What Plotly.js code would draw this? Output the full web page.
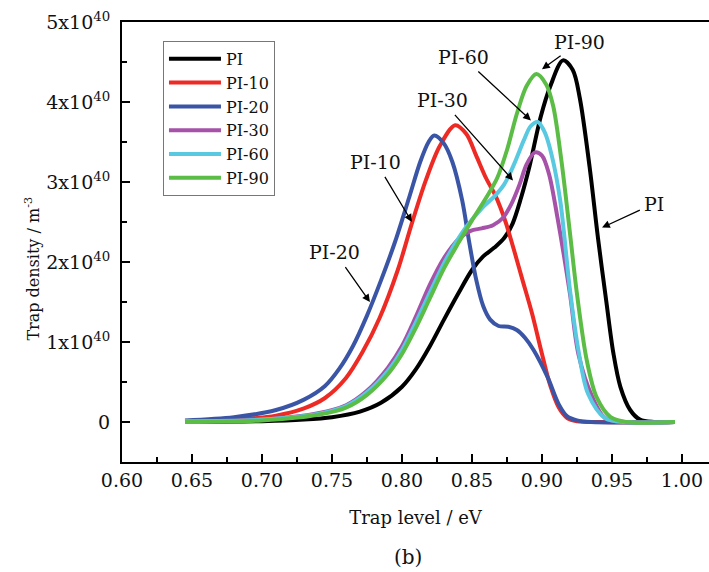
<!DOCTYPE html>
<html>
<head>
<meta charset="utf-8">
<script src="https://cdn.plot.ly/plotly-3.0.1.min.js"></script>
<style>html,body{margin:0;padding:0;overflow:hidden;background:#fff}</style>
</head>
<body>
<div id="chart" style="width:709px;height:572px"></div>
<script>
// Series names and colours
const seriesNames = ['PI', 'PI-10', 'PI-20', 'PI-30', 'PI-60', 'PI-90'];
const seriesColors = ['#000000', '#ee2a24', '#3a55a5', '#a652a9', '#58c9e0', '#5cbd46'];

// Trap level (eV) and trap density (in units of 1e40 m^-3)
const xPI   = [0.645, 0.700, 0.730, 0.750, 0.770, 0.785, 0.800, 0.810, 0.820, 0.830, 0.840, 0.850, 0.858, 0.866, 0.873, 0.879, 0.885, 0.891, 0.899, 0.906, 0.915, 0.922, 0.927, 0.934, 0.940, 0.946, 0.951, 0.956, 0.963, 0.970, 0.980, 0.995];
const yPI   = [0.00, 0.01, 0.03, 0.06, 0.13, 0.24, 0.44, 0.66, 0.95, 1.28, 1.60, 1.90, 2.07, 2.18, 2.30, 2.48, 2.80, 3.19, 3.81, 4.20, 4.52, 4.40, 4.05, 3.19, 2.30, 1.50, 0.86, 0.44, 0.15, 0.03, 0.00, 0.00];

const xPI10 = [0.645, 0.680, 0.710, 0.730, 0.745, 0.760, 0.772, 0.784, 0.797, 0.807, 0.817, 0.827, 0.838, 0.846, 0.853, 0.860, 0.867, 0.874, 0.880, 0.886, 0.893, 0.900, 0.906, 0.912, 0.918, 0.925, 0.940, 0.995];
const yPI10 = [0.01, 0.03, 0.08, 0.17, 0.30, 0.55, 0.88, 1.30, 1.90, 2.48, 3.02, 3.45, 3.71, 3.60, 3.33, 3.05, 2.82, 2.50, 2.15, 1.78, 1.35, 0.85, 0.45, 0.18, 0.05, 0.01, 0.00, 0.00];

const xPI20 = [0.645, 0.680, 0.710, 0.730, 0.745, 0.755, 0.765, 0.775, 0.785, 0.795, 0.805, 0.813, 0.819, 0.823, 0.830, 0.836, 0.843, 0.848, 0.853, 0.858, 0.863, 0.869, 0.876, 0.882, 0.888, 0.894, 0.904, 0.912, 0.918, 0.925, 0.935, 0.995];
const yPI20 = [0.02, 0.06, 0.15, 0.28, 0.45, 0.66, 0.95, 1.33, 1.77, 2.25, 2.80, 3.25, 3.50, 3.58, 3.48, 3.25, 2.77, 2.25, 1.78, 1.45, 1.28, 1.20, 1.19, 1.15, 1.05, 0.90, 0.56, 0.22, 0.07, 0.02, 0.00, 0.00];

const xPI30 = [0.645, 0.700, 0.740, 0.760, 0.775, 0.790, 0.800, 0.810, 0.820, 0.830, 0.840, 0.849, 0.857, 0.865, 0.872, 0.878, 0.884, 0.889, 0.895, 0.900, 0.905, 0.911, 0.920, 0.926, 0.936, 0.945, 0.960, 0.995];
const yPI30 = [0.01, 0.03, 0.11, 0.21, 0.39, 0.68, 0.95, 1.32, 1.72, 2.05, 2.28, 2.39, 2.42, 2.46, 2.55, 2.72, 2.97, 3.22, 3.37, 3.33, 3.10, 2.56, 1.60, 0.85, 0.31, 0.05, 0.00, 0.00];

const xPI60 = [0.645, 0.700, 0.740, 0.760, 0.775, 0.790, 0.800, 0.810, 0.820, 0.832, 0.846, 0.858, 0.866, 0.873, 0.880, 0.887, 0.892, 0.897, 0.902, 0.907, 0.913, 0.920, 0.926, 0.933, 0.945, 0.960, 0.995];
const yPI60 = [0.01, 0.03, 0.10, 0.20, 0.37, 0.64, 0.90, 1.25, 1.62, 2.05, 2.44, 2.69, 2.82, 2.97, 3.22, 3.52, 3.70, 3.75, 3.62, 3.33, 2.77, 1.65, 0.90, 0.35, 0.05, 0.00, 0.00];

const xPI90 = [0.645, 0.700, 0.740, 0.760, 0.775, 0.790, 0.800, 0.810, 0.820, 0.830, 0.840, 0.850, 0.860, 0.868, 0.875, 0.882, 0.889, 0.896, 0.903, 0.908, 0.914, 0.920, 0.925, 0.932, 0.939, 0.949, 0.960, 0.995];
const yPI90 = [0.00, 0.02, 0.09, 0.18, 0.34, 0.60, 0.85, 1.18, 1.55, 1.92, 2.23, 2.52, 2.80, 3.05, 3.40, 3.85, 4.20, 4.35, 4.22, 3.95, 3.25, 2.36, 1.60, 0.77, 0.31, 0.06, 0.00, 0.00];

const UNIT = 1e40;
const xSeries = [xPI, xPI10, xPI20, xPI30, xPI60, xPI90];
const ySeries = [yPI, yPI10, yPI20, yPI30, yPI60, yPI90];

// Axis ticks
const xTickVals = [0.60, 0.65, 0.70, 0.75, 0.80, 0.85, 0.90, 0.95, 1.00];
const xTickText = ['0.60', '0.65', '0.70', '0.75', '0.80', '0.85', '0.90', '0.95', '1.00'];
const yTickVals = [0, 1, 2, 3, 4, 5];
const yTickText = ['0', '1x10<sup>40</sup>', '2x10<sup>40</sup>', '3x10<sup>40</sup>', '4x10<sup>40</sup>', '5x10<sup>40</sup>'];

// Curve labels: label centre and arrow tip (y in units of 1e40)
const labelTexts = ['PI-90', 'PI-60', 'PI-30', 'PI-10', 'PI-20', 'PI'];
const labelX = [0.9271, 0.8436, 0.8286, 0.7814, 0.7521, 0.9800];
const labelY = [4.75, 4.56, 4.02, 3.25, 2.12, 2.73];
const tipX = [0.9000, 0.8921, 0.8793, 0.8071, 0.7771, 0.9429];
const tipY = [4.41, 3.77, 3.02, 2.50, 1.50, 2.43];

const FONT = 'DejaVu Serif, Liberation Serif, serif';

const traces = seriesNames.map((name, i) => ({
  type: 'scatter', mode: 'lines', name: name,
  x: xSeries[i], y: ySeries[i].map(v => v * UNIT),
  line: {color: seriesColors[i], width: 4, shape: 'spline', smoothing: 0.9}
}));

const annotations = labelTexts.map((t, i) => ({
  x: tipX[i], y: tipY[i] * UNIT, xref: 'x', yref: 'y',
  ax: labelX[i], ay: labelY[i] * UNIT, axref: 'x', ayref: 'y',
  text: t, showarrow: true, arrowhead: 2, arrowsize: 1.2, arrowwidth: 1.3, arrowcolor: '#000',
  startstandoff: 4, borderpad: 0,
  font: {family: FONT, size: 19, color: '#111'}
}));
annotations.push({xref: 'paper', yref: 'paper', x: -0.153, y: 0.44, text: 'Trap density / m<sup>-3</sup>',
  textangle: -90, showarrow: false, font: {family: FONT, size: 16, color: '#111'}, xanchor: 'center', yanchor: 'middle'});
annotations.push({xref: 'paper', yref: 'paper', x: 0.487, y: -0.217, text: '(b)',
  showarrow: false, font: {family: FONT, size: 20, color: '#111'}, xanchor: 'center', yanchor: 'middle'});

const layout = {
  width: 709, height: 572,
  margin: {l: 122, r: 0, t: 22, b: 110},
  paper_bgcolor: '#fff', plot_bgcolor: '#fff',
  showlegend: true,
  legend: {x: 0.0698, y: 0.957, xanchor: 'left', yanchor: 'top', bgcolor: '#fff', bordercolor: '#777', borderwidth: 1,
    font: {family: FONT, size: 16, color: '#111'}, itemwidth: 52, tracegroupgap: 0},
  xaxis: {
    range: [0.6, 1.0193], showgrid: false, zeroline: false,
    showline: true, linecolor: '#000', linewidth: 2, mirror: true,
    tickvals: xTickVals, ticktext: xTickText, ticks: 'inside', ticklen: 8, tickwidth: 2, tickcolor: '#000',
    minor: {dtick: 0.025, tick0: 0.6, ticks: 'inside', ticklen: 5, tickwidth: 2, tickcolor: '#000'},
    tickfont: {family: FONT, size: 19, color: '#111'},
    title: {text: 'Trap level / eV', font: {family: FONT, size: 18, color: '#111'}, standoff: 22},
    automargin: false
  },
  yaxis: {
    range: [-0.5 * UNIT, 5 * UNIT], showgrid: false, zeroline: false,
    showline: true, linecolor: '#000', linewidth: 2, mirror: false,
    tickvals: yTickVals.map(v => v * UNIT), ticktext: yTickText, ticks: 'inside', ticklen: 8, tickwidth: 2, tickcolor: '#000',
    minor: {dtick: 0.5 * UNIT, tick0: 0, ticks: 'inside', ticklen: 5, tickwidth: 2, tickcolor: '#000'},
    tickfont: {family: FONT, size: 19, color: '#111'}, ticklabelstandoff: 6,
    automargin: false
  },
  annotations: annotations
};

Plotly.newPlot('chart', traces, layout, {displayModeBar: false, staticPlot: true});
</script>
</body>
</html>
